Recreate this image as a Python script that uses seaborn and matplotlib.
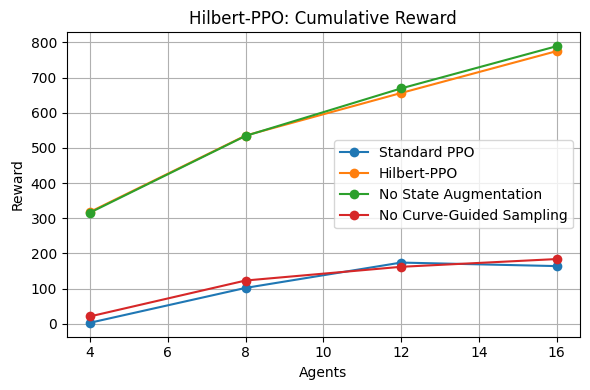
import matplotlib
matplotlib.use("Agg")
import matplotlib.pyplot as plt
import seaborn as sns
import pandas as pd

agents = [4, 8, 12, 16]
standard_ppo = [3, 102, 174, 164]
hilbert_ppo = [318, 535, 656, 775]
no_state_aug = [316, 534, 669, 789]
no_curve = [21, 123, 162, 184]
series_names = ["Standard PPO", "Hilbert-PPO", "No State Augmentation", "No Curve-Guided Sampling"]

rows = []
for name, vals in zip(series_names, [standard_ppo, hilbert_ppo, no_state_aug, no_curve]):
    for a, v in zip(agents, vals):
        rows.append({"Agents": a, "Reward": v, "Method": name})
df = pd.DataFrame(rows)

fig, ax = plt.subplots(figsize=(5.9, 3.9), dpi=100)
sns.lineplot(data=df, x="Agents", y="Reward", hue="Method", marker="o",
             markersize=7, markeredgewidth=0, palette="tab10", ax=ax)
ax.set_title("Hilbert-PPO: Cumulative Reward")
ax.set_xlabel("Agents")
ax.set_ylabel("Reward")
ax.grid(True)
ax.legend(loc="center right")
fig.subplots_adjust(left=0.113, right=0.983, top=0.917, bottom=0.137)
fig.savefig("out.png", dpi=100)
